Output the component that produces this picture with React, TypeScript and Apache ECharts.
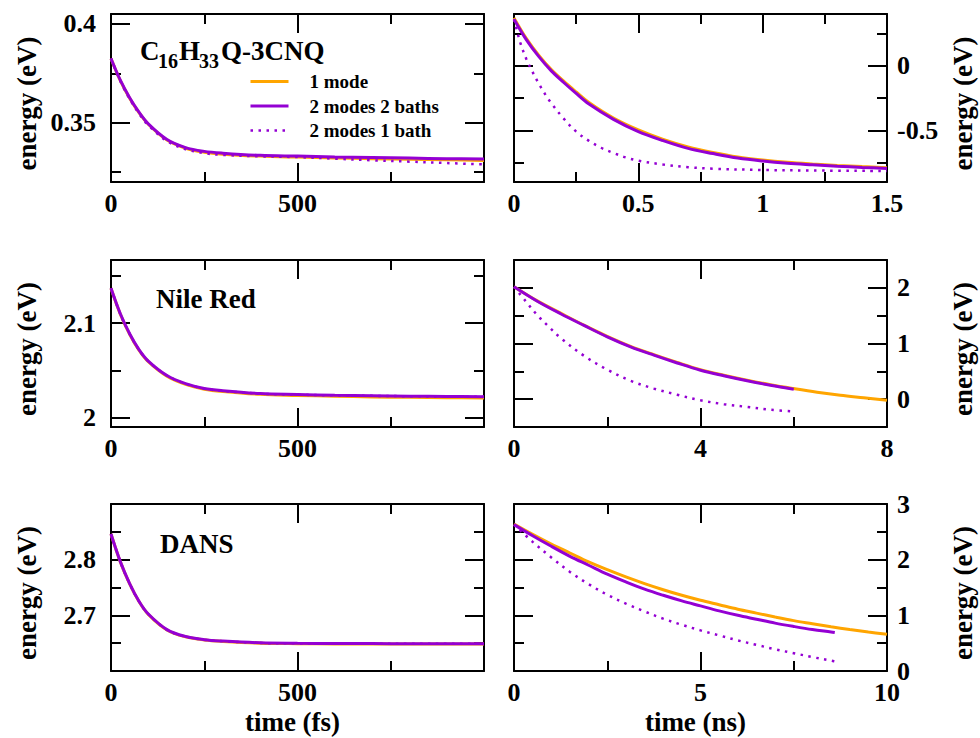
import React, { useEffect, useRef } from "react";
import * as echarts from "echarts";

const FONT = '"Liberation Serif", "Times New Roman", serif';
const ORANGE = "#FFA500";
const VIOLET = "#9400D3";
const NAMES = ["1 mode", "2 modes 2 baths", "2 modes 1 bath"];

// ---- time grids (fs panels) ----
const FS_T = [0, 25, 50, 75, 100, 150, 200, 250, 300, 400, 500, 600, 700, 800, 900, 1000];

// C16H33Q-3CNQ, fs
const CNQ_FS_1MODE = [0.3825, 0.3713, 0.3624, 0.3551, 0.3492, 0.3412, 0.3371, 0.3351, 0.3341, 0.3331, 0.3326, 0.3322, 0.3318, 0.3315, 0.3312, 0.3309];
const CNQ_FS_2M2B = [0.3825, 0.3715, 0.3626, 0.3553, 0.3494, 0.3415, 0.3374, 0.3355, 0.3346, 0.3335, 0.3331, 0.3327, 0.3324, 0.3321, 0.3318, 0.3316];
const CNQ_FS_2M1B = [0.3825, 0.371, 0.362, 0.3546, 0.3487, 0.3407, 0.3366, 0.3346, 0.3337, 0.333, 0.3326, 0.3318, 0.331, 0.3303, 0.3296, 0.3289];

// Nile Red, fs
const NR_FS_1MODE = [2.137, 2.1095, 2.0882, 2.0714, 2.0592, 2.0438, 2.0352, 2.0301, 2.0276, 2.0246, 2.0235, 2.0226, 2.0219, 2.0214, 2.021, 2.0207];
const NR_FS_2M2B = [2.137, 2.11, 2.0888, 2.072, 2.0598, 2.0445, 2.0359, 2.0308, 2.0284, 2.0254, 2.0244, 2.0236, 2.0231, 2.0227, 2.0224, 2.0221];
const NR_FS_2M1B = [2.137, 2.1098, 2.0886, 2.0718, 2.0597, 2.0444, 2.0358, 2.0307, 2.0283, 2.0253, 2.0243, 2.0235, 2.023, 2.0226, 2.0223, 2.022];

// DANS, fs
const DANS_FS_1MODE = [2.846, 2.796, 2.7565, 2.7248, 2.7018, 2.6738, 2.6614, 2.6557, 2.6531, 2.65, 2.6491, 2.6487, 2.6485, 2.6484, 2.6483, 2.6483];
const DANS_FS_2M2B = [2.846, 2.7965, 2.757, 2.7253, 2.7023, 2.6743, 2.6619, 2.6562, 2.6537, 2.6506, 2.6497, 2.6494, 2.6492, 2.6491, 2.649, 2.649];
const DANS_FS_2M1B = [2.846, 2.7962, 2.7567, 2.725, 2.702, 2.674, 2.6617, 2.656, 2.6535, 2.6504, 2.6496, 2.6493, 2.6491, 2.649, 2.6489, 2.6489];

// C16H33Q-3CNQ, ns
const CNQ_NS_T = [0, 0.05, 0.1, 0.15, 0.2, 0.25, 0.3, 0.4, 0.5, 0.6, 0.7, 0.8, 0.9, 1.0, 1.1, 1.2, 1.3, 1.4, 1.5];
const CNQ_NS_1MODE = [0.37, 0.21, 0.08, -0.03, -0.12, -0.203, -0.283, -0.405, -0.497, -0.57, -0.628, -0.671, -0.706, -0.73, -0.748, -0.761, -0.772, -0.781, -0.789];
const CNQ_NS_2M2B = [0.36, 0.2, 0.07, -0.04, -0.13, -0.215, -0.295, -0.415, -0.51, -0.58, -0.64, -0.68, -0.715, -0.738, -0.755, -0.767, -0.778, -0.787, -0.795];
const CNQ_NS_DT = [0, 0.025, 0.05, 0.075, 0.1, 0.125, 0.15, 0.2, 0.25, 0.3, 0.35, 0.4, 0.45, 0.5, 0.6, 0.7, 0.8, 1.0, 1.2, 1.5];
const CNQ_NS_2M1B = [0.36, 0.18, 0.05, -0.05, -0.14, -0.22, -0.29, -0.41, -0.51, -0.58, -0.635, -0.675, -0.71, -0.735, -0.765, -0.785, -0.797, -0.807, -0.811, -0.815];

// Nile Red, ns
const NR_NS_OT = [0, 0.5, 1, 1.5, 2, 2.5, 3, 3.5, 4, 4.5, 5, 5.5, 6, 6.5, 7, 7.5, 8];
const NR_NS_1MODE = [2.02, 1.765, 1.545, 1.33, 1.13, 0.95, 0.8, 0.66, 0.53, 0.43, 0.34, 0.26, 0.19, 0.125, 0.07, 0.025, -0.02];
const NR_NS_PT = [0, 0.5, 1, 1.5, 2, 2.5, 3, 3.5, 4, 4.5, 5, 5.5, 6];
const NR_NS_2M2B = [2.02, 1.76, 1.535, 1.325, 1.12, 0.94, 0.79, 0.65, 0.52, 0.42, 0.33, 0.25, 0.18];
const NR_NS_DT = [0, 0.25, 0.5, 0.75, 1, 1.5, 2, 2.5, 3, 3.5, 4, 4.5, 5, 5.5, 6];
const NR_NS_2M1B = [2.02, 1.76, 1.51, 1.3, 1.1, 0.78, 0.53, 0.33, 0.19, 0.08, -0.02, -0.09, -0.14, -0.19, -0.22];

// DANS, ns
const DANS_NS_OT = [0, 0.5, 1, 1.5, 2, 2.5, 3, 3.5, 4, 4.5, 5, 5.5, 6, 6.5, 7, 7.5, 8, 8.5, 9, 9.5, 10];
const DANS_NS_1MODE = [2.64, 2.455, 2.28, 2.12, 1.96, 1.82, 1.69, 1.57, 1.46, 1.36, 1.27, 1.19, 1.11, 1.04, 0.97, 0.905, 0.85, 0.795, 0.745, 0.7, 0.66];
const DANS_NS_PT = [0, 0.5, 1, 1.5, 2, 2.5, 3, 3.5, 4, 4.5, 5, 5.5, 6, 6.5, 7, 7.5, 8, 8.5, 8.6];
const DANS_NS_2M2B = [2.63, 2.43, 2.24, 2.06, 1.9, 1.74, 1.6, 1.47, 1.36, 1.26, 1.17, 1.08, 1.0, 0.93, 0.86, 0.8, 0.745, 0.7, 0.69];
const DANS_NS_DT = [0, 0.5, 1, 1.5, 2, 2.5, 3, 3.5, 4, 4.5, 5, 5.5, 6, 6.5, 7, 7.5, 8, 8.5, 8.7];
const DANS_NS_2M1B = [2.63, 2.32, 2.04, 1.78, 1.56, 1.37, 1.21, 1.07, 0.94, 0.83, 0.73, 0.64, 0.55, 0.47, 0.39, 0.32, 0.25, 0.185, 0.16];

// ---- axis ticks / labels ----
const FS_X = { range: [0, 1000], major: [0, 500, 1000], minor: [250, 750], labels: [0, 500] };
const CNQ_NS_X = { range: [0, 1.5], major: [0, 0.5, 1, 1.5], minor: [0.25, 0.75, 1.25], labels: [0, 0.5, 1, 1.5] };
const NR_NS_X = { range: [0, 8], major: [0, 4, 8], minor: [2, 6], labels: [0, 4, 8] };
const DANS_NS_X = { range: [0, 10], major: [0, 5, 10], minor: [2.5, 7.5], labels: [0, 5, 10] };

const CNQ_FS_Y = { range: [0.32, 0.405], major: [0.35, 0.4], minor: [0.325, 0.375], labels: [0.35, 0.4] };
const NR_FS_Y = { range: [1.99, 2.167], major: [2.0, 2.1], minor: [2.05, 2.15], labels: [2, 2.1] };
const DANS_FS_Y = { range: [2.6, 2.9], major: [2.6, 2.7, 2.8, 2.9], minor: [2.65, 2.75, 2.85], labels: [2.7, 2.8] };
const CNQ_NS_Y = { range: [-0.9, 0.4], major: [-0.5, 0], minor: [-0.75, -0.25, 0.25], labels: [-0.5, 0] };
const NR_NS_Y = { range: [-0.5, 2.5], major: [0, 1, 2], minor: [-0.5, 0.5, 1.5, 2.5], labels: [0, 1, 2] };
const DANS_NS_Y = { range: [0, 3], major: [0, 1, 2, 3], minor: [0.5, 1.5, 2.5], labels: [0, 1, 2, 3] };

const pts = (t: number[], v: number[]) => t.map((x, i) => [x, v[i]]);

const PANELS = [
  { left: 111, top: 14, height: 168, side: "left", x: FS_X, y: CNQ_FS_Y, xName: "",
    data: [pts(FS_T, CNQ_FS_1MODE), pts(FS_T, CNQ_FS_2M2B), pts(FS_T, CNQ_FS_2M1B)] },
  { left: 514, top: 14, height: 168, side: "right", x: CNQ_NS_X, y: CNQ_NS_Y, xName: "",
    data: [pts(CNQ_NS_T, CNQ_NS_1MODE), pts(CNQ_NS_T, CNQ_NS_2M2B), pts(CNQ_NS_DT, CNQ_NS_2M1B)] },
  { left: 111, top: 260, height: 167, side: "left", x: FS_X, y: NR_FS_Y, xName: "",
    data: [pts(FS_T, NR_FS_1MODE), pts(FS_T, NR_FS_2M2B), pts(FS_T, NR_FS_2M1B)] },
  { left: 514, top: 260, height: 167, side: "right", x: NR_NS_X, y: NR_NS_Y, xName: "",
    data: [pts(NR_NS_OT, NR_NS_1MODE), pts(NR_NS_PT, NR_NS_2M2B), pts(NR_NS_DT, NR_NS_2M1B)] },
  { left: 111, top: 504, height: 167, side: "left", x: FS_X, y: DANS_FS_Y, xName: "time (fs)",
    data: [pts(FS_T, DANS_FS_1MODE), pts(FS_T, DANS_FS_2M2B), pts(FS_T, DANS_FS_2M1B)] },
  { left: 514, top: 504, height: 167, side: "right", x: DANS_NS_X, y: DANS_NS_Y, xName: "time (ns)",
    data: [pts(DANS_NS_OT, DANS_NS_1MODE), pts(DANS_NS_PT, DANS_NS_2M2B), pts(DANS_NS_DT, DANS_NS_2M1B)] },
];

const PANEL_WIDTH = 373;

const LINE_STYLES: any[] = [
  { color: ORANGE, width: 3 },
  { color: VIOLET, width: 3 },
  { color: VIOLET, width: 2.5, type: [2.5, 5.5] },
];

const labelStyle = (size: number) => ({
  color: "#000",
  fontFamily: FONT,
  fontWeight: "bold" as const,
  fontSize: size,
});

function buildOption() {
  const grid: any[] = [];
  const xAxis: any[] = [];
  const yAxis: any[] = [];
  const series: any[] = [];

  PANELS.forEach((p, g) => {
    grid.push({ left: p.left, top: p.top, width: PANEL_WIDTH, height: p.height, containLabel: false });

    const lineCommon = { onZero: false, lineStyle: { color: "#000", width: 2 } };
    const mkX = (pos: string, ticks: number[], len: number, withLine: boolean, withLabel: boolean) => ({
      gridIndex: g,
      type: "value",
      position: pos,
      min: p.x.range[0],
      max: p.x.range[1],
      axisLine: { show: withLine, ...lineCommon },
      axisTick: { show: true, inside: true, length: len, customValues: ticks, lineStyle: { color: "#000", width: 2 } },
      axisLabel: withLabel
        ? { show: true, customValues: p.x.labels, margin: 8, ...labelStyle(26) }
        : { show: false },
      splitLine: { show: false },
      name: withLabel ? p.xName : "",
      nameLocation: "middle",
      nameGap: 37,
      nameTextStyle: { ...labelStyle(27), padding: [0, 10, 0, 0] },
    });
    xAxis.push(mkX("bottom", p.x.major, 19, true, true));
    xAxis.push(mkX("bottom", p.x.minor, 10, false, false));
    xAxis.push(mkX("top", p.x.major, 19, true, false));
    xAxis.push(mkX("top", p.x.minor, 10, false, false));

    const mkY = (pos: string, ticks: number[], len: number, withLine: boolean, withLabel: boolean) => ({
      gridIndex: g,
      type: "value",
      position: pos,
      min: p.y.range[0],
      max: p.y.range[1],
      axisLine: { show: withLine, ...lineCommon },
      axisTick: { show: true, inside: true, length: len, customValues: ticks, lineStyle: { color: "#000", width: 2 } },
      axisLabel: withLabel
        ? { show: true, customValues: p.y.labels, margin: pos === "left" ? 15 : 10, ...labelStyle(26) }
        : { show: false },
      splitLine: { show: false },
      name: withLabel ? "energy (eV)" : "",
      nameLocation: "middle",
      nameGap: pos === "left" ? 71 : 62,
      nameTextStyle: { ...labelStyle(27), padding: [0, 11, 0, 0] },
    });
    yAxis.push(mkY("left", p.y.major, 19, true, p.side === "left"));
    yAxis.push(mkY("left", p.y.minor, 10, false, false));
    yAxis.push(mkY("right", p.y.major, 19, true, p.side === "right"));
    yAxis.push(mkY("right", p.y.minor, 10, false, false));

    const yIdx = g * 4 + (p.side === "left" ? 0 : 2);
    p.data.forEach((d, k) => {
      series.push({
        type: "line",
        name: NAMES[k],
        xAxisIndex: g * 4,
        yAxisIndex: yIdx,
        data: d,
        symbol: "none",
        smooth: 0.35,
        lineStyle: LINE_STYLES[k],
        itemStyle: { color: LINE_STYLES[k].color },
        z: 2 + k,
      });
    });
  });

  const txt = (text: string, x: number, y: number, size: number) => ({
    type: "text",
    x,
    y,
    style: {
      text,
      font: `bold ${size}px ${FONT}`,
      fill: "#000",
      align: "left",
      verticalAlign: "middle",
      textAlign: "left",
      textVerticalAlign: "middle",
    },
  });

  return {
    animation: false,
    backgroundColor: "#fff",
    grid,
    xAxis,
    yAxis,
    series,
    legend: {
      show: true,
      data: NAMES.map((n, k) => ({ name: n, lineStyle: { ...LINE_STYLES[k] } })),
      left: 249,
      top: 72,
      orient: "vertical",
      padding: 0,
      itemWidth: 38,
      itemHeight: 14,
      itemGap: 5.5,
      selectedMode: false,
      itemStyle: { opacity: 0 },
      formatter: (n: string) => `{g|}${n}`,
      textStyle: {
        ...labelStyle(19),
        lineHeight: 19,
        rich: { g: { width: 16, height: 19 } },
      },
    },
    graphic: [
      txt("C", 140, 51, 27),
      txt("16", 158, 61, 20),
      txt("H", 179, 51, 27),
      txt("33", 199, 61, 20),
      txt("Q-3CNQ", 221, 51, 27),
      txt("Nile Red", 156, 299, 27),
      txt("DANS", 160, 544, 27),
    ],
  };
}

export default function App() {
  const ref = useRef<HTMLDivElement>(null);
  useEffect(() => {
    if (!ref.current) return;
    const chart = echarts.init(ref.current, undefined, { renderer: "svg" });
    chart.setOption(buildOption() as any);
    return () => chart.dispose();
  }, []);
  return (
    <div
      ref={ref}
      style={{ position: "fixed", left: 0, top: 0, width: 980, height: 738, background: "#fff" }}
    />
  );
}
